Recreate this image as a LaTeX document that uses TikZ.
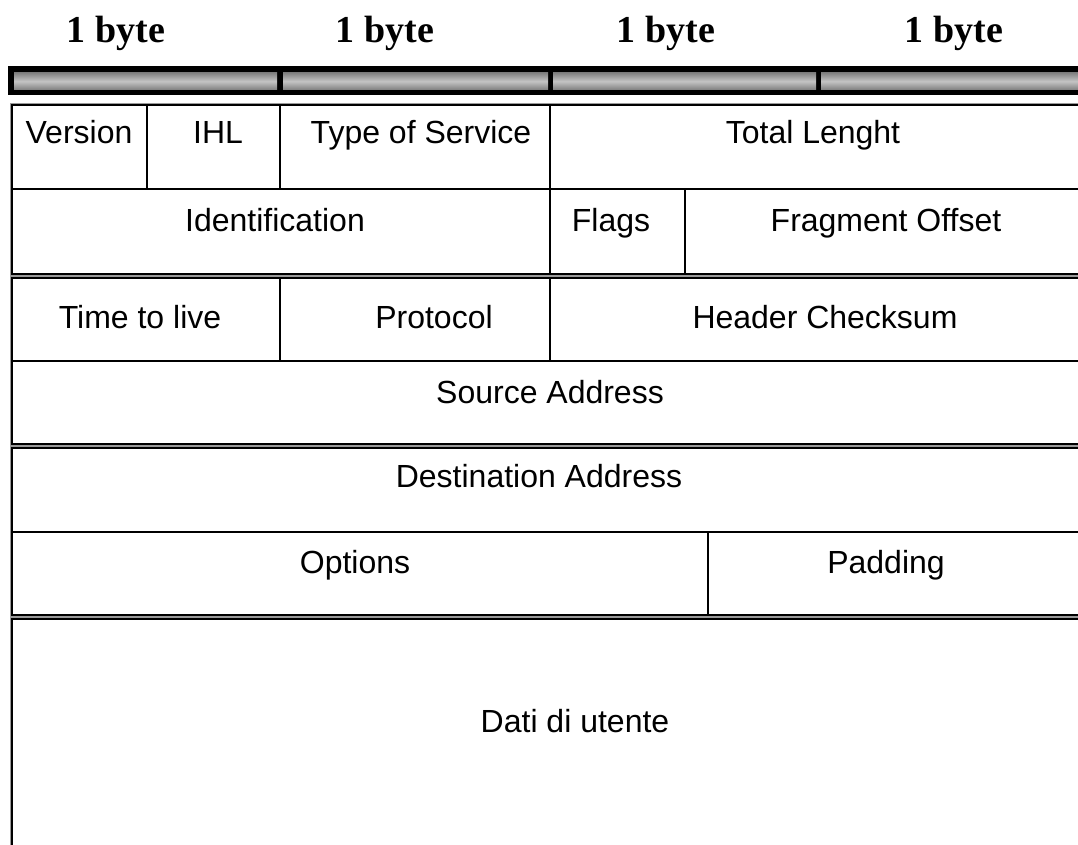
\documentclass[tikz,border=0pt]{standalone}
\usepackage{fontspec}
\setmainfont{Liberation Sans}
\newfontfamily\bytefont{Liberation Serif}
\definecolor{barDark}{HTML}{7E7E7E}
\definecolor{barLight}{HTML}{C4C4C4}
\definecolor{edgeGray}{HTML}{9A9A9A}
\begin{document}
\begin{tikzpicture}[x=1pt,y=-1pt,
  field/.style={anchor=base, inner sep=0pt, font=\fontsize{32}{38}\selectfont},
  bytelbl/.style={anchor=base, inner sep=0pt, font=\bytefont\bfseries\fontsize{38}{44}\selectfont},
  blockframe/.style={draw=black, line width=1.7pt},
  blockedge/.style={draw=edgeGray, line width=1pt},
  rowsep/.style={draw=black, line width=2.6pt},
  colsep/.style={draw=black, line width=1.4pt},
  barseg/.style={top color=barDark, bottom color=barDark, middle color=barLight}]
\useasboundingbox (0,0) rectangle (1078,845);
\clip (0,0) rectangle (1078,845);

% byte labels
\node[bytelbl] (b1) at (116,43) {1 byte};
\node[bytelbl] (b2) at (385,43) {1 byte};
\node[bytelbl] (b3) at (666,43) {1 byte};
\node[bytelbl] (b4) at (954,43) {1 byte};

% byte ruler
\fill[black] (8,66) rectangle (1100,95);
\shade[barseg] (14,72.5) rectangle (277,90);
\shade[barseg] (283,72.5) rectangle (548,90);
\shade[barseg] (553,72.5) rectangle (816,90);
\shade[barseg] (821,72.5) rectangle (1100,90);

% header blocks (outer gray edge, inner black frame)
\foreach \ya/\yb in {105/274, 278/444, 448/615, 619/870}{
  \draw[blockedge] (10.5,\ya-1.5) rectangle (1100,\yb+1.5);
  \draw[blockframe] (12,\ya) rectangle (1100,\yb);
}

% row separators inside blocks
\draw[rowsep] (12,189) -- (1100,189);
\draw[rowsep] (12,361) -- (1100,361);
\draw[rowsep] (12,532) -- (1100,532);

% column separators
\draw[colsep] (147,105) -- (147,189);
\draw[colsep] (280,105) -- (280,189);
\draw[colsep] (550,105) -- (550,189);
\draw[colsep] (550,189) -- (550,274);
\draw[colsep] (685,189) -- (685,274);
\draw[colsep] (280,278) -- (280,361);
\draw[colsep] (550,278) -- (550,361);
\draw[colsep] (708,532) -- (708,615);

% field names
\node[field] (ver) at (79,144) {Version};
\node[field] (ihl) at (218,144) {IHL};
\node[field] (tos) at (421,144) {Type of Service};
\node[field] (tlen) at (813,144) {Total Lenght};
\node[field] (ident) at (275,231) {Identification};
\node[field] (flags) at (611,231) {Flags};
\node[field] (frag) at (886,231) {Fragment Offset};
\node[field] (ttl) at (140,328) {Time to live};
\node[field] (proto) at (434,328) {Protocol};
\node[field] (csum) at (825,328) {Header Checksum};
\node[field] (src) at (550,403) {Source Address};
\node[field] (dst) at (539,487) {Destination Address};
\node[field] (opt) at (355,573) {Options};
\node[field] (pad) at (886,573) {Padding};
\node[field] (data) at (575,732) {Dati di utente};
\end{tikzpicture}
\end{document}
